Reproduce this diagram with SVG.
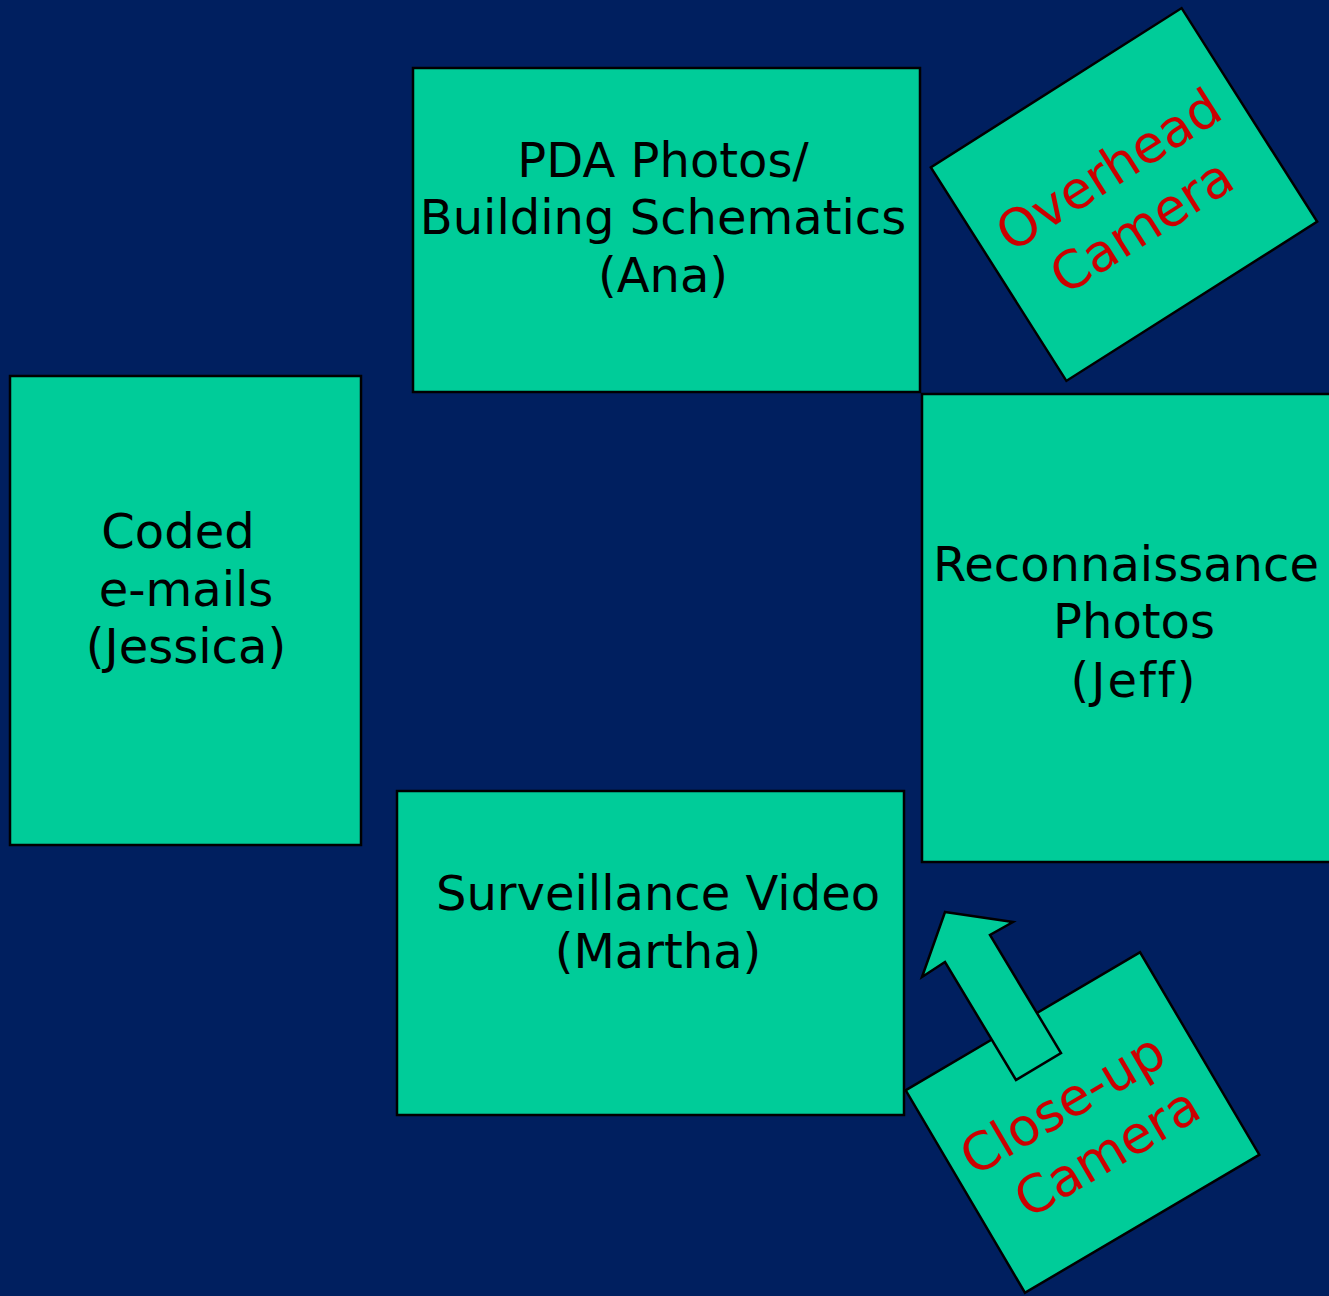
<svg xmlns="http://www.w3.org/2000/svg" width="1329" height="1296" viewBox="0 0 1329 1296">
  <style>
    .box { fill: #00CC99; stroke: #000000; stroke-width: 2.5; }
    .label { font-family: "DejaVu Sans", Verdana, "Liberation Sans", sans-serif; font-size: 48px; fill: #000000; text-anchor: middle; font-variant-ligatures: none; font-feature-settings: "liga" 0, "clig" 0; }
    .cam { font-family: "DejaVu Sans", Verdana, "Liberation Sans", sans-serif; font-size: 52px; fill: #CC0000; text-anchor: middle; }
  </style>
  <rect x="0" y="0" width="1329" height="1296" fill="#001F5F"/>

  <g id="pda-photos">
    <rect class="box" x="413" y="68" width="507" height="324"/>
    <text class="label" x="663" y="177">PDA Photos/</text>
    <text class="label" x="663" y="234">Building Schematics</text>
    <text class="label" x="663" y="292">(Ana)</text>
  </g>

  <g id="overhead-camera" transform="translate(1124,194.5) rotate(-32.4)">
    <rect class="box" x="-148.5" y="-126.5" width="297" height="253"/>
    <text class="cam" x="0" y="-11">Overhead</text>
    <text class="cam" x="-2" y="54">Camera</text>
  </g>

  <g id="coded-emails">
    <rect class="box" x="10" y="376" width="351" height="469"/>
    <text class="label" x="178" y="548">Coded</text>
    <text class="label" x="186" y="606">e-mails</text>
    <text class="label" x="186" y="663">(Jessica)</text>
  </g>

  <g id="recon-photos">
    <rect class="box" x="922" y="394" width="430" height="468"/>
    <text class="label" x="1126" y="581">Reconnaissance</text>
    <text class="label" x="1134" y="638">Photos</text>
    <text class="label" x="1134" y="697" letter-spacing="2">(Jeff)</text>
  </g>

  <g id="surveillance-video">
    <rect class="box" x="397" y="791" width="507" height="324"/>
    <text class="label" x="658" y="910">Surveillance Video</text>
    <text class="label" x="658" y="968">(Martha)</text>
  </g>

  <g id="closeup-camera" transform="translate(1082.5,1122.5) rotate(-30.5)">
    <rect class="box" x="-136" y="-117.5" width="272" height="235"/>
    <text class="cam" x="-8" y="-8">Close-up</text>
    <text class="cam" x="6" y="56">Camera</text>
  </g>

  <g id="connectors">
    <polygon class="box" points="945,912 1013,922 990,935 1061,1053 1016,1080 945,962 922,977"/>
  </g>
</svg>
